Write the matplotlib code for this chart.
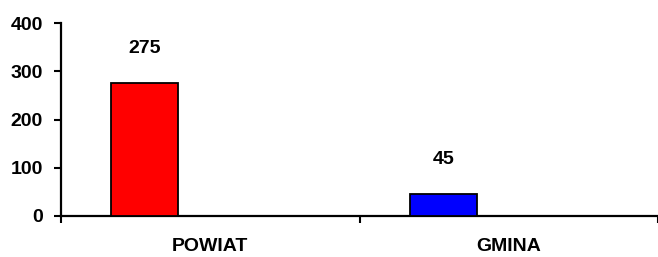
import numpy as np
import matplotlib.pyplot as plt

categories = ['POWIAT', 'GMINA']
values = [275, 45]
colors = ['#ff0000', '#0000ff']
yticks = [0, 100, 200, 300, 400]

plt.rcParams['font.family'] = ['Liberation Sans', 'DejaVu Sans']
plt.rcParams['font.weight'] = 'bold'

fig = plt.figure(figsize=(6.58, 2.57), dpi=100)
ax = fig.add_axes([61 / 658, 1 - 216 / 257, 1 - 61 / 658, (216 - 23) / 257])

x = np.arange(len(categories))
bars = ax.bar(x - 0.219, values, width=0.225, color=colors,
              edgecolor='black', linewidth=1.3, zorder=3)

for b, v in zip(bars, values):
    ax.annotate(str(v), (b.get_x() + b.get_width() / 2, v),
                xytext=(0, 25), textcoords='offset points',
                ha='center', va='center', fontsize=14, fontweight='bold')

ax.set_xlim(-0.5, 1.477)
ax.set_ylim(0, 400)
ax.set_yticks(yticks)
ax.set_yticklabels([str(t) for t in yticks], fontsize=14, fontweight='bold')

ax.set_xticks([-0.5, 0.5, 1.5])
ax.set_xticklabels([])
ax.set_xticks(x, minor=True)
ax.set_xticklabels(categories, minor=True, fontsize=14, fontweight='bold')
ax.tick_params(axis='x', which='major', direction='out', length=5, width=1.5)
ax.tick_params(axis='x', which='minor', length=0, pad=16)
ax.tick_params(axis='y', direction='out', length=5, width=1.5, pad=8)

for s in ['top', 'right']:
    ax.spines[s].set_visible(False)
for s in ['left', 'bottom']:
    ax.spines[s].set_linewidth(1.6)

fig.savefig('out.png', dpi=100)
